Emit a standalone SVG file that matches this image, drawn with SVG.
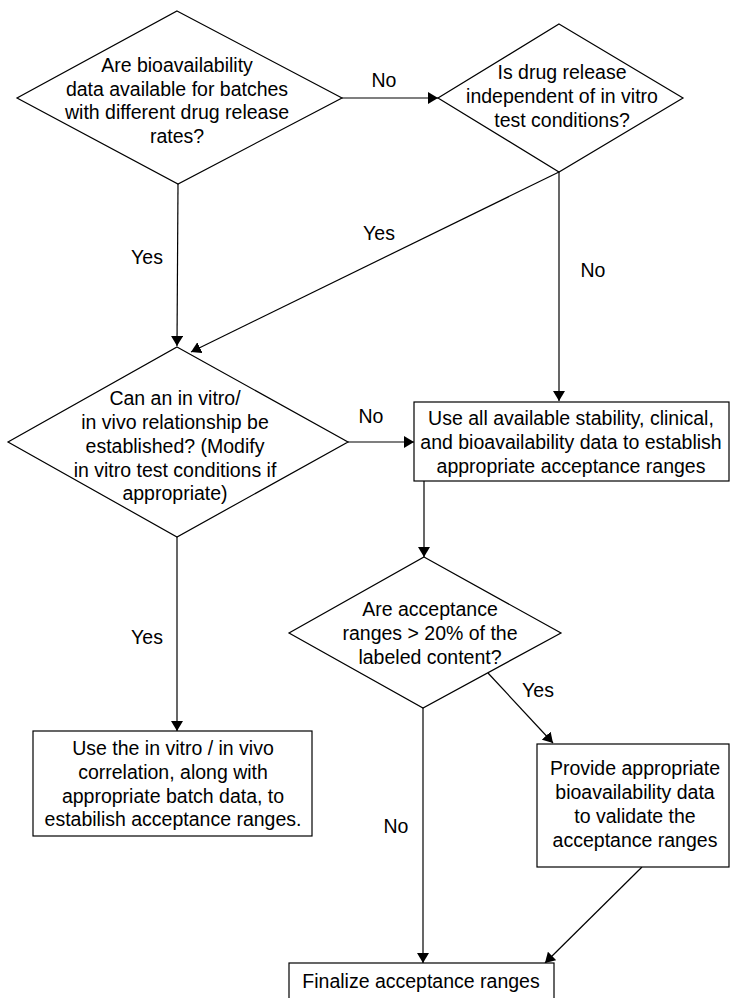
<svg xmlns="http://www.w3.org/2000/svg" width="731" height="998" viewBox="0 0 731 998">
<style>
.s{fill:#fff;stroke:#000;stroke-width:1.2}
.t{font-family:"Liberation Sans",Arial,Helvetica,sans-serif;font-size:19.5px;fill:#000;text-anchor:middle}
.c{fill:none;stroke:#000;stroke-width:1.2;marker-end:url(#ah)}
</style>
<defs>
<marker id="ah" markerUnits="userSpaceOnUse" markerWidth="12" markerHeight="12" refX="10" refY="6" orient="auto">
<path d="M0,0 L10,6 L0,12 z" fill="#000"/>
</marker>
</defs>
<rect width="731" height="998" fill="#fff"/>
<g id="connectors">
<line class="c" x1="342" y1="98" x2="438" y2="98"/>
<line class="c" x1="178" y1="184" x2="177" y2="346"/>
<line class="c" x1="559" y1="172" x2="191" y2="352"/>
<line class="c" x1="559" y1="172" x2="559" y2="401"/>
<line class="c" x1="348" y1="442" x2="414" y2="442"/>
<line class="c" x1="424" y1="481" x2="424" y2="557"/>
<line class="c" x1="177" y1="537" x2="177" y2="731"/>
<line class="c" x1="488" y1="673" x2="553" y2="743"/>
<line class="c" x1="423" y1="708" x2="423" y2="963"/>
<line class="c" x1="642" y1="867" x2="545" y2="963"/>
<text class="t" x="384" y="87">No</text>
<text class="t" x="147" y="264">Yes</text>
<text class="t" x="379" y="240">Yes</text>
<text class="t" x="593" y="277">No</text>
<text class="t" x="371" y="423">No</text>
<text class="t" x="147" y="644">Yes</text>
<text class="t" x="538" y="697">Yes</text>
<text class="t" x="396" y="833">No</text>
</g>
<g id="q1">
<polygon class="s" points="177,11 342,98 178,184 17,98"/>
<text class="t" x="177" y="72">Are bioavailability</text>
<text class="t" x="177" y="95.5">data available for batches</text>
<text class="t" x="177" y="119">with different drug release</text>
<text class="t" x="177" y="142.5">rates?</text>
</g>
<g id="q2">
<polygon class="s" points="559,24 683,98 559,172 438,98"/>
<text class="t" x="562" y="79">Is drug release</text>
<text class="t" x="562" y="103">independent of in vitro</text>
<text class="t" x="562" y="127">test conditions?</text>
</g>
<g id="q3">
<polygon class="s" points="177,347 348,442 177,537 8,442"/>
<text class="t" x="175" y="405">Can an in vitro/</text>
<text class="t" x="175" y="429">in vivo relationship be</text>
<text class="t" x="175" y="453">established? (Modify</text>
<text class="t" x="175" y="477">in vitro test conditions if</text>
<text class="t" x="175" y="500">appropriate)</text>
</g>
<g id="boxA">
<rect class="s" x="414" y="402" width="315" height="79"/>
<text class="t" x="571" y="425">Use all available stability, clinical,</text>
<text class="t" x="571" y="449">and bioavailability data to establish</text>
<text class="t" x="571" y="473">appropriate acceptance ranges</text>
</g>
<g id="q4">
<polygon class="s" points="424,557 561,633 423,708 289,633"/>
<text class="t" x="430" y="616">Are acceptance</text>
<text class="t" x="430" y="640">ranges &gt; 20% of the</text>
<text class="t" x="430" y="664">labeled content?</text>
</g>
<g id="boxC">
<rect class="s" x="33" y="731" width="279" height="105"/>
<text class="t" x="173" y="755">Use the in vitro / in vivo</text>
<text class="t" x="173" y="779">correlation, along with</text>
<text class="t" x="173" y="803">appropriate batch data, to</text>
<text class="t" x="173" y="826">estabilish acceptance ranges.</text>
</g>
<g id="boxB">
<rect class="s" x="537" y="744" width="192" height="123"/>
<text class="t" x="635" y="775">Provide appropriate</text>
<text class="t" x="635" y="799">bioavailability data</text>
<text class="t" x="635" y="823">to validate the</text>
<text class="t" x="635" y="847">acceptance ranges</text>
</g>
<g id="final">
<rect class="s" x="289" y="963" width="265" height="45"/>
<text class="t" x="421" y="988">Finalize acceptance ranges</text>
</g>
</svg>
